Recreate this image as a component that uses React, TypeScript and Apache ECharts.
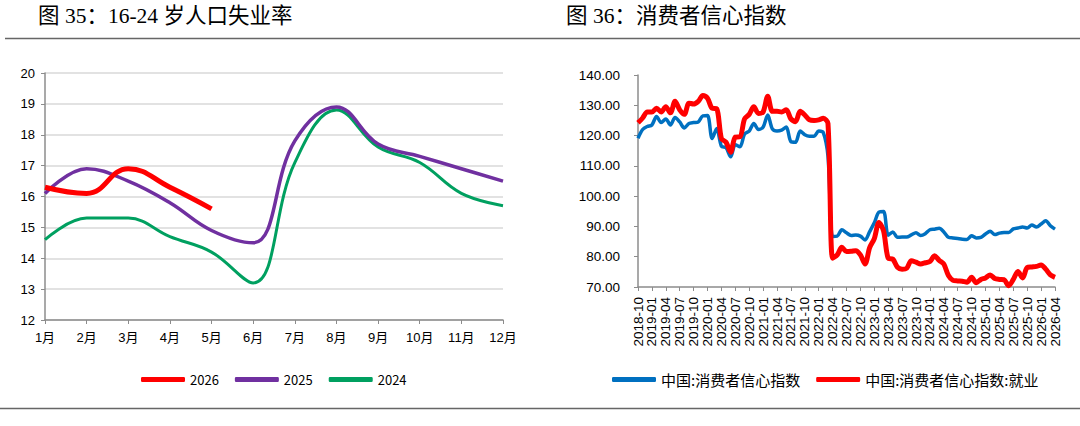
import React, { useEffect, useRef } from "react";
import * as echarts from "echarts";

// 图35 16-24岁人口失业率 (%)
const months = ["1月", "2月", "3月", "4月", "5月", "6月", "7月", "8月", "9月", "10月", "11月", "12月"];
const rate2026 = [16.3, 16.1, 16.9, 16.3, 15.6];
const rate2025 = [16.1, 16.9, 16.5, 15.8, 14.9, 14.5, 17.8, 18.9, 17.7, 17.3, 16.9, 16.5];
const rate2024 = [14.6, 15.3, 15.3, 14.7, 14.2, 13.2, 17.1, 18.8, 17.6, 17.1, 16.1, 15.7];

// 图36 消费者信心指数, 2018-10 ~ 2026-04 月度
const startYear = 2018;
const startMonth = 10;
const monthCount = 91;
const dates: string[] = [];
for (let i = 0; i < monthCount; i++) {
  const m = startMonth - 1 + i;
  const y = startYear + Math.floor(m / 12);
  dates.push(`${y}-${String((m % 12) + 1).padStart(2, "0")}`);
}

const confidence = [
  119.1, 122, 123, 123.5, 126.3, 124.3, 125.5, 123.5, 126, 124.5, 122.5, 124,
  124.3, 124.5, 126.5, 126.6, 119, 122.3, 116.5, 116, 113, 117, 116.3, 120.5,
  121.5, 124, 122, 122.8, 126.8, 122.2, 121.5, 121.8, 122.8, 118, 117.8, 121.5,
  120.3, 119.8, 119.8, 121.5, 121, 113.2, 86.7, 86.8, 88.9, 87.9, 87, 87.2,
  86.8, 85.5, 88.3, 91.2, 94.7, 94.9, 87.1, 88.2, 86.4, 86.5, 86.5, 87.2,
  87.9, 87, 87.6, 88.9, 89.1, 89.4, 88.2, 86.4, 86.2, 86, 85.8, 85.7,
  86.9, 86.2, 86.4, 87.5, 88.4, 87.3, 87.8, 88, 88, 89.2, 89.5, 89.8,
  89.5, 90.5, 89.8, 90.8, 91.9, 90.2, 89.1,
];
const employment = [
  124.2, 125.8, 127.8, 127.8, 129, 127.8, 129.5, 127.5, 131.3, 128.5, 127, 130.7,
  130.4, 131.3, 133.2, 132.3, 129, 128.8, 119, 117.8, 114.5, 119.5, 119.6, 125.5,
  127, 129.5, 127.3, 127.8, 133, 128, 128, 127.8, 128.5, 125.5, 124.6, 128,
  126.8, 125.2, 125, 125.2, 125.7, 124, 79.5, 80.6, 83.1, 81.7, 81.8, 82,
  80.6, 77.6, 83, 86, 91.3, 88.5, 79.5, 79.2, 76.5, 75.9, 76.2, 78.7,
  78.2, 77.6, 78, 78.4, 80.3, 78.8, 77.6, 73.8, 72.2, 72, 71.9, 71.6,
  73.2, 71.4, 72.5, 73, 74, 72.8, 72.5, 72.4, 70.4, 72.5, 75.1, 73,
  76.4, 76.6, 76.8, 77.3, 75.9, 74, 73.2,
];

const titleFont = "'Liberation Serif', 'Noto Sans CJK SC', serif";
const labelFont = "Arial, 'Liberation Sans', 'Noto Sans CJK SC', sans-serif";
const axisGray = "#8c8c8c";

export default function App() {
  const chartRef = useRef<HTMLDivElement>(null);

  useEffect(() => {
    if (!chartRef.current) return;
    const chart = echarts.init(chartRef.current, undefined, { renderer: "svg" });

    chart.setOption({
      animation: false,
      backgroundColor: "#fff",
      graphic: [
        {
          type: "text",
          left: 38,
          top: 5,
          style: { text: "图 35：16-24 岁人口失业率", font: `21.5px ${titleFont}`, fill: "#000" },
        },
        {
          type: "text",
          left: 566,
          top: 5,
          style: { text: "图 36：消费者信心指数", font: `21.5px ${titleFont}`, fill: "#000" },
        },
        {
          type: "line",
          shape: { x1: 5, y1: 38.5, x2: 1080, y2: 38.5 },
          style: { stroke: "#666", lineWidth: 1.5 },
        },
        {
          type: "line",
          shape: { x1: 0, y1: 408.5, x2: 1080, y2: 408.5 },
          style: { stroke: "#666", lineWidth: 1.5 },
        },
      ],
      legend: [
        {
          left: 136,
          top: 368,
          data: ["2026", "2025", "2024"],
          icon: "roundRect",
          itemWidth: 44,
          itemHeight: 5,
          itemGap: 16,
          textStyle: { fontSize: 13, color: "#000", fontFamily: "'Liberation Sans Narrow', 'Noto Sans CJK SC', sans-serif" },
        },
        {
          left: 607,
          top: 367,
          data: ["中国:消费者信心指数", "中国:消费者信心指数:就业"],
          icon: "roundRect",
          itemWidth: 44,
          itemHeight: 5,
          itemGap: 16,
          textStyle: { fontSize: 15, color: "#000", fontFamily: "'Noto Sans CJK SC', sans-serif" },
        },
      ],
      grid: [
        { left: 45, top: 73, width: 458, height: 247 },
        { left: 638, top: 75, width: 417, height: 212 },
      ],
      xAxis: [
        {
          gridIndex: 0,
          type: "category",
          data: months,
          boundaryGap: false,
          axisLine: { lineStyle: { color: axisGray, width: 1.5 } },
          axisTick: { lineStyle: { color: axisGray }, length: 4 },
          axisLabel: { color: "#000", fontSize: 13, margin: 11, fontFamily: labelFont },
        },
        {
          gridIndex: 1,
          type: "category",
          data: dates,
          boundaryGap: false,
          axisLine: { lineStyle: { color: axisGray, width: 1.5 } },
          axisTick: { interval: 2, lineStyle: { color: axisGray }, length: 4 },
          axisLabel: { interval: 2, rotate: 90, color: "#000", fontSize: 13.5, margin: 10, fontFamily: labelFont },
        },
      ],
      yAxis: [
        {
          gridIndex: 0,
          type: "value",
          min: 12,
          max: 20,
          interval: 1,
          axisLine: { show: true, lineStyle: { color: axisGray, width: 1.5 } },
          axisTick: { show: true, lineStyle: { color: axisGray }, length: 4 },
          axisLabel: { color: "#000", fontSize: 13, margin: 10, fontFamily: labelFont },
          splitLine: { lineStyle: { color: "#d9d9d9", width: 1.5 } },
        },
        {
          gridIndex: 1,
          type: "value",
          min: 70,
          max: 140,
          interval: 10,
          axisLine: { show: true, lineStyle: { color: axisGray, width: 1.5 } },
          axisTick: { show: true, lineStyle: { color: axisGray }, length: 4 },
          axisLabel: {
            color: "#000",
            fontSize: 13.5,
            margin: 18,
            fontFamily: labelFont,
            formatter: (v: number) => v.toFixed(2),
          },
          splitLine: { show: false },
        },
      ],
      series: [
        {
          name: "2026",
          type: "line",
          xAxisIndex: 0,
          yAxisIndex: 0,
          data: rate2026,
          smooth: 0.45,
          showSymbol: false,
          color: "#ff0000",
          lineStyle: { width: 5 },
          z: 5,
        },
        {
          name: "2025",
          type: "line",
          xAxisIndex: 0,
          yAxisIndex: 0,
          data: rate2025,
          smooth: 0.4,
          showSymbol: false,
          color: "#7030a0",
          lineStyle: { width: 3.5 },
          z: 4,
        },
        {
          name: "2024",
          type: "line",
          xAxisIndex: 0,
          yAxisIndex: 0,
          data: rate2024,
          smooth: 0.4,
          showSymbol: false,
          color: "#00a060",
          lineStyle: { width: 3 },
          z: 3,
        },
        {
          name: "中国:消费者信心指数",
          type: "line",
          xAxisIndex: 1,
          yAxisIndex: 1,
          data: confidence,
          smooth: 0.3,
          showSymbol: false,
          color: "#0070c0",
          lineStyle: { width: 3.5 },
        },
        {
          name: "中国:消费者信心指数:就业",
          type: "line",
          xAxisIndex: 1,
          yAxisIndex: 1,
          data: employment,
          smooth: 0.3,
          showSymbol: false,
          color: "#ff0000",
          lineStyle: { width: 5 },
        },
      ],
    });

    return () => {
      chart.dispose();
    };
  }, []);

  return (
    <div
      ref={chartRef}
      style={{ position: "fixed", left: 0, top: 0, width: 1080, height: 426, background: "#fff" }}
    />
  );
}
